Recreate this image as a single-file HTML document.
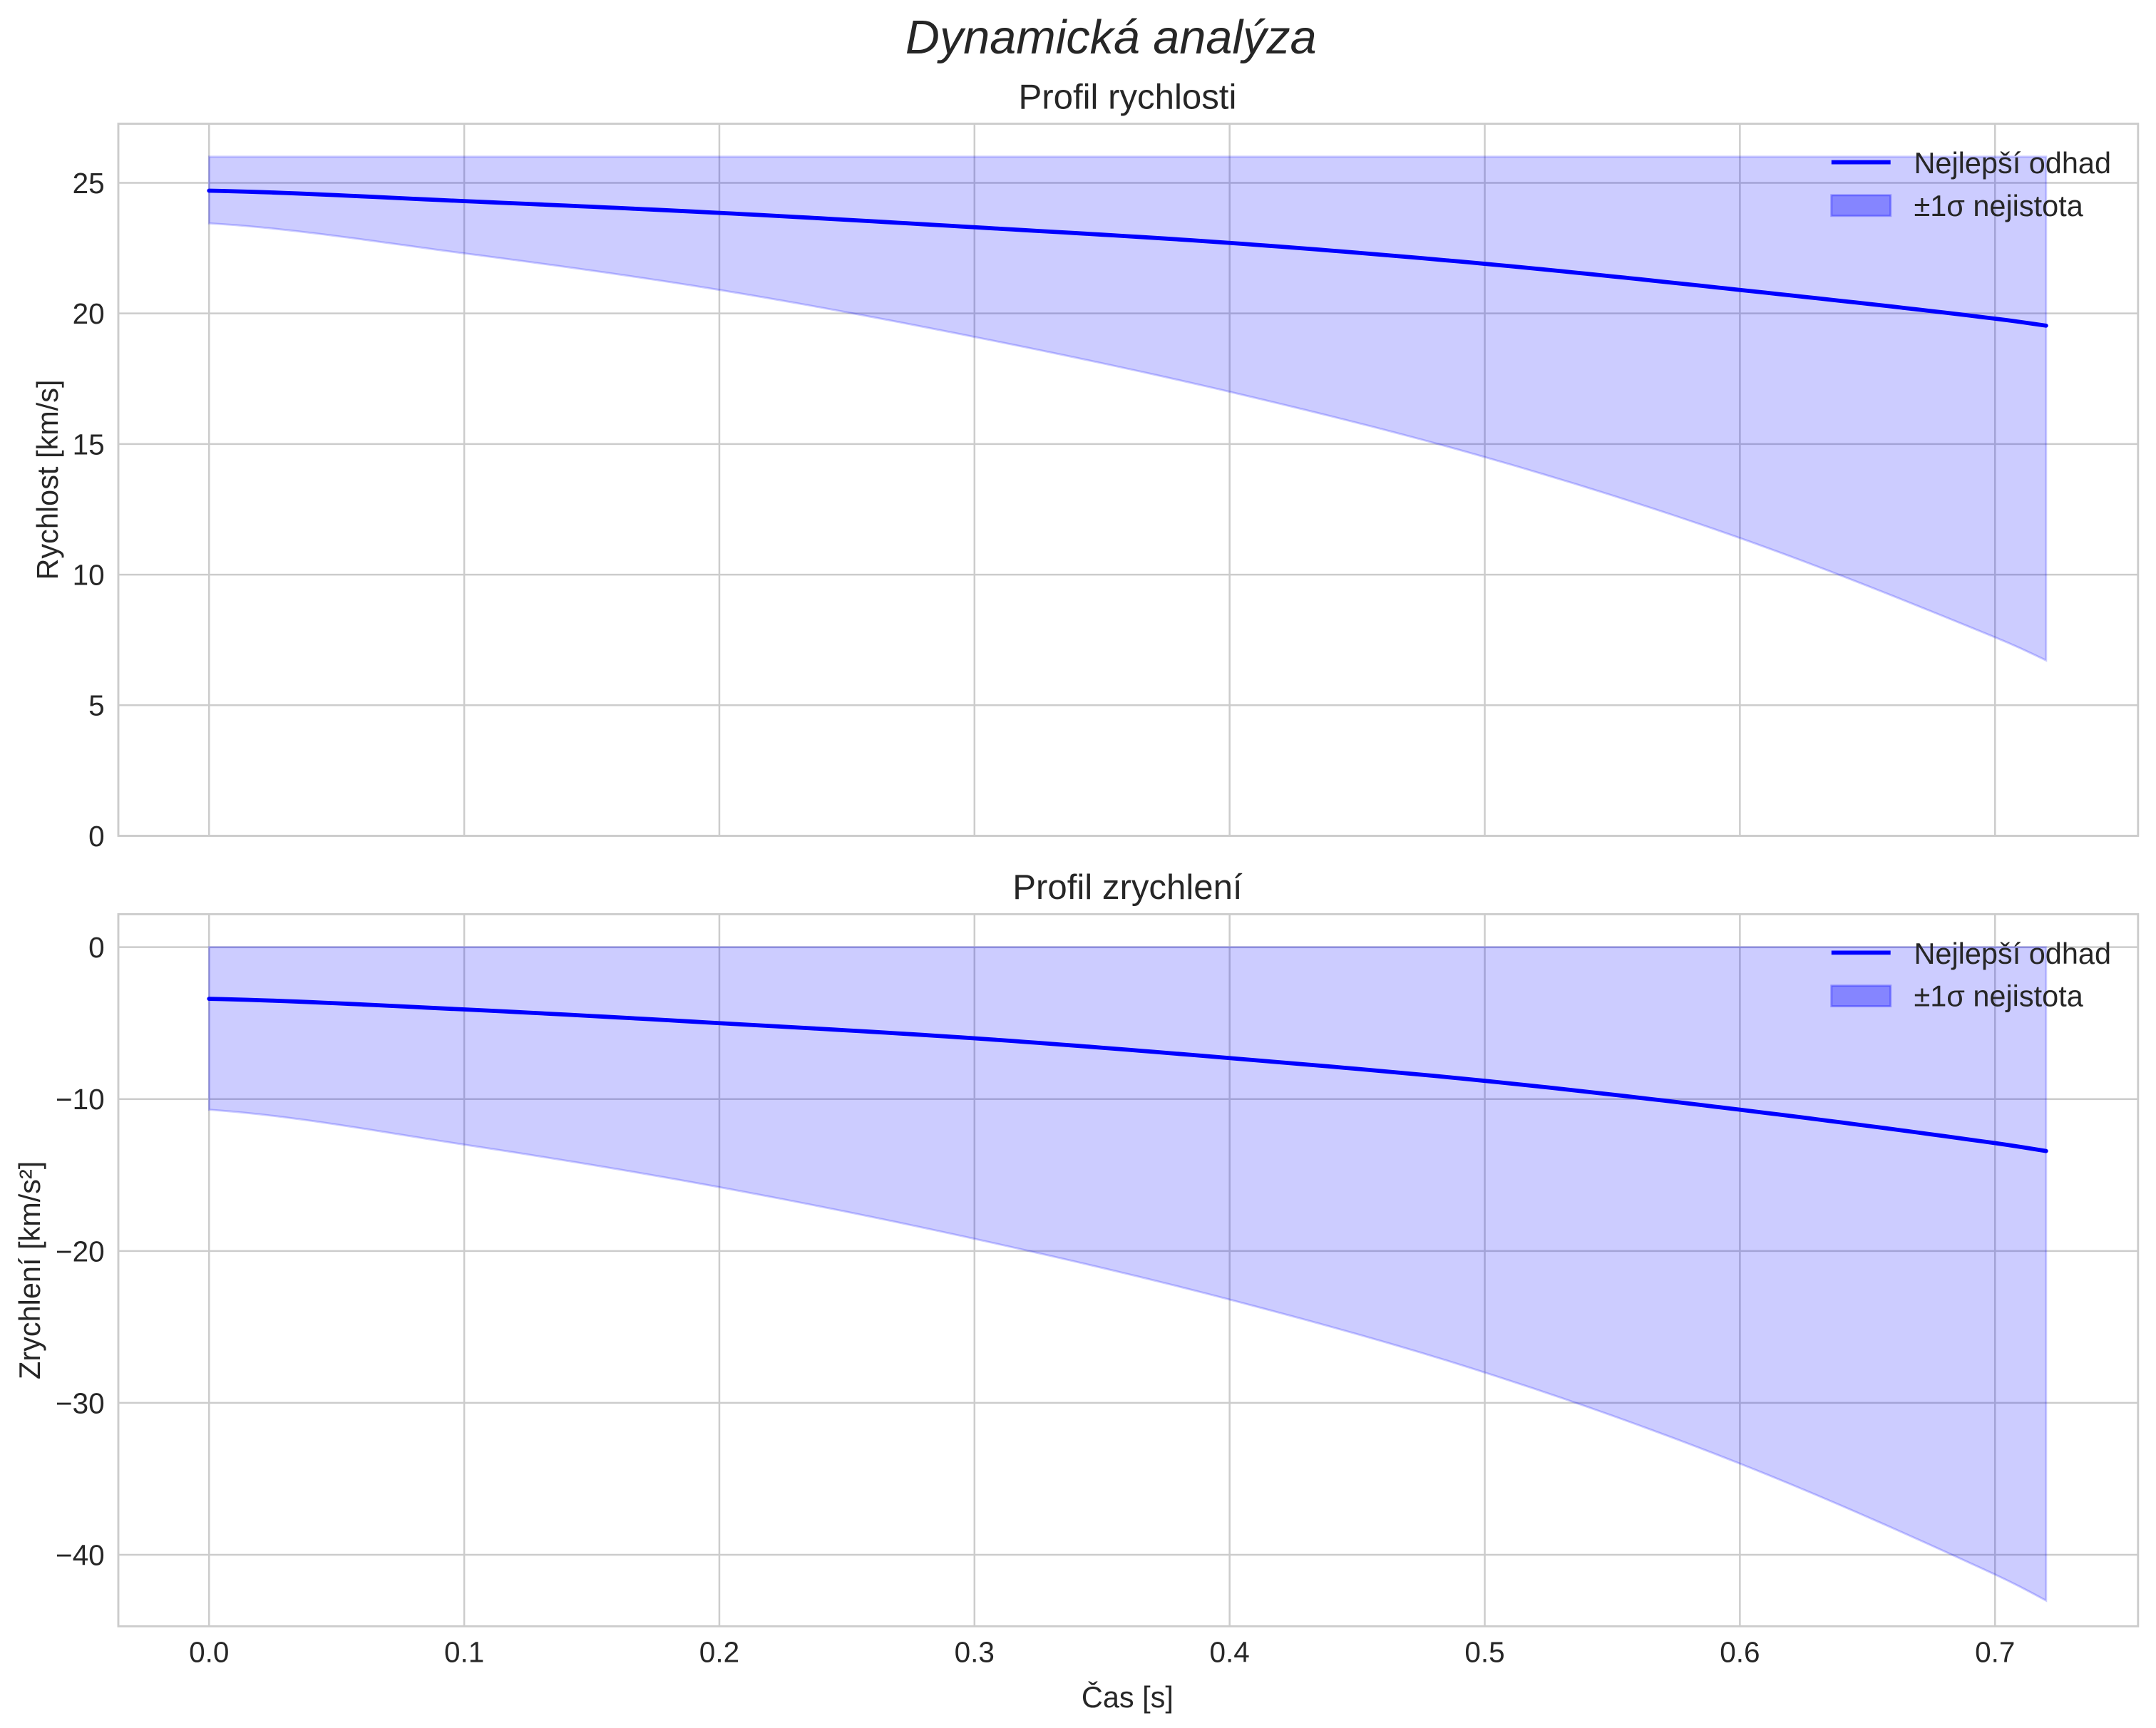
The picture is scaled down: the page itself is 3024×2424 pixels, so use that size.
<!DOCTYPE html>
<html><head><meta charset="utf-8"><style>
html,body{margin:0;padding:0;background:#fff;}
svg{display:block;}
text{font-family:"Liberation Sans",sans-serif;fill:#262626;}
</style></head><body>
<svg id="s" width="3024" height="2424" viewBox="0 0 1568 1257" xmlns="http://www.w3.org/2000/svg">
<text x="808" y="39" font-size="34.5" font-style="italic" text-anchor="middle">Dynamická analýza</text>
<text x="820" y="79" font-size="25.5" text-anchor="middle">Profil rychlosti</text>
<text x="820" y="654" font-size="25.5" text-anchor="middle">Profil zrychlení</text>
<text transform="translate(42,349) rotate(-90)" font-size="21.5" text-anchor="middle">Rychlost [km/s]</text>
<text transform="translate(29,924) rotate(-90)" font-size="21.5" text-anchor="middle">Zrychlení [km/s²]</text>
<text x="820" y="1242" font-size="21.5" text-anchor="middle">Čas [s]</text>
<g id="g"></g>
</svg>
<script>
const NS="http://www.w3.org/2000/svg";const g=document.getElementById('g');
function el(t,a,txt){const e=document.createElementNS(NS,t);for(const k in a)e.setAttribute(k,a[k]);if(txt!==undefined)e.textContent=txt;g.appendChild(e);return e;}
const X=t=>152+t*1855.7;
function interp(xs,ys,t){let i=0;while(i<xs.length-2&&t>xs[i+1])i++;
 const p0=ys[Math.max(i-1,0)],p1=ys[i],p2=ys[i+1],p3=ys[Math.min(i+2,ys.length-1)];
 const u=(t-xs[i])/(xs[i+1]-xs[i]);
 return 0.5*((2*p1)+(-p0+p2)*u+(2*p0-5*p1+4*p2-p3)*u*u+(-p0+3*p1-3*p2+p3)*u*u*u);}
const xs=[0,.1,.2,.3,.4,.5,.6,.7,.8];
function panel(top,bot,Y,yt,best,up,lo){
 for(const v of yt){el('line',{x1:86,x2:1555,y1:Y(v),y2:Y(v),stroke:'#cccccc','stroke-width':1.3});
  el('text',{x:76,y:Y(v)+7.5,'font-size':21,'text-anchor':'end'},String(v).replace('-','−'));}
 for(let i=0;i<8;i++){const x=X(i/10);el('line',{x1:x,x2:x,y1:top,y2:bot,stroke:'#cccccc','stroke-width':1.3});}
 let ub=[],lb=[],bl=[];
 for(let k=0;k<=144;k++){const t=k*0.005;ub.push(X(t)+','+Y(interp(xs,up,t)));lb.push(X(t)+','+Y(interp(xs,lo,t)));bl.push(X(t)+','+Y(interp(xs,best,t)));}
 el('polygon',{points:ub.concat(lb.reverse()).join(' '),fill:'rgba(0,0,255,0.2)',stroke:'rgba(0,0,255,0.2)','stroke-width':1.5});
 el('polyline',{points:bl.join(' '),fill:'none',stroke:'#0000ff','stroke-width':3,'stroke-linecap':'round'});
 el('rect',{x:86,y:top,width:1469,height:bot-top,fill:'none',stroke:'#cccccc','stroke-width':1.5});
 el('line',{x1:1332,x2:1375,y1:top+28,y2:top+28,stroke:'#0000ff','stroke-width':3});
 el('rect',{x:1332,y:top+52,width:43,height:15,fill:'rgba(0,0,255,0.35)',stroke:'rgba(0,0,255,0.3)','stroke-width':1.5});
 el('text',{x:1392,y:top+36,'font-size':21.5},'Nejlepší odhad');
 el('text',{x:1392,y:top+67,'font-size':21.5},'±1σ nejistota');
}
panel(90,608,v=>608-v*19,[0,5,10,15,20,25],[24.7,24.3,23.85,23.3,22.7,21.9,20.9,19.8,18.5],[26,26,26,26,26,26,26,26,26],[23.45,22.3,20.9,19.1,17.0,14.5,11.4,7.6,3.4]);
panel(665,1183,v=>689-v*11.05,[0,-10,-20,-30,-40],[-3.4,-4.1,-5.0,-6.0,-7.3,-8.8,-10.7,-12.9,-15.4],[0,0,0,0,0,0,0,0,0],[-10.7,-13,-15.8,-19.2,-23.2,-28,-34,-41.3,-49.5]);
for(let i=0;i<8;i++)el('text',{x:X(i/10),y:1209,'font-size':21,'text-anchor':'middle'},(i/10).toFixed(1));
</script>
</body></html>
